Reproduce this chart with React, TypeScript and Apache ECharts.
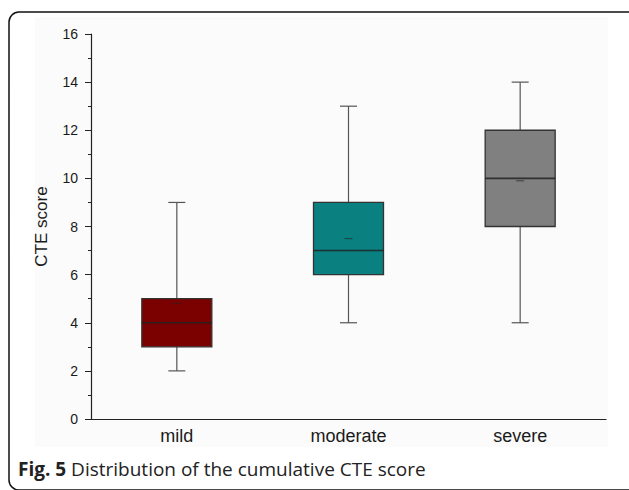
import React, { useEffect, useRef } from "react";
import * as echarts from "echarts";

const categories = ["mild", "moderate", "severe"];
const minValues = [2, 4, 4];
const q1Values = [3, 6, 8];
const medianValues = [4, 7, 10];
const q3Values = [5, 9, 12];
const maxValues = [9, 13, 14];
const meanValues = [4.8, 7.5, 9.9];
const boxColors = ["#7b0000", "#0a8080", "#808080"];
const yTicks = [0, 16, 2];

const FONT = "Liberation Sans, Arial, sans-serif";

export default function App() {
  const ref = useRef<HTMLDivElement>(null);
  useEffect(() => {
    const chart = echarts.init(ref.current!, null, { renderer: "svg" });
    const data = categories.map((_, i) => [
      i,
      minValues[i],
      q1Values[i],
      medianValues[i],
      q3Values[i],
      maxValues[i],
      meanValues[i],
    ]);
    const renderItem = (params: any, api: any) => {
      const xi = api.value(0);
      const pMin = api.coord([xi, api.value(1)]);
      const pQ1 = api.coord([xi, api.value(2)]);
      const pMed = api.coord([xi, api.value(3)]);
      const pQ3 = api.coord([xi, api.value(4)]);
      const pMax = api.coord([xi, api.value(5)]);
      const pMean = api.coord([xi, api.value(6)]);
      const cx = pMed[0];
      const hw = 35;
      const cw = 8.5;
      const wStyle = { stroke: "#555555", lineWidth: 1.2 };
      return {
        type: "group",
        children: [
          { type: "line", shape: { x1: cx, y1: pMax[1], x2: cx, y2: pQ3[1] }, style: wStyle },
          { type: "line", shape: { x1: cx, y1: pQ1[1], x2: cx, y2: pMin[1] }, style: wStyle },
          { type: "line", shape: { x1: cx - cw, y1: pMax[1], x2: cx + cw, y2: pMax[1] }, style: wStyle },
          { type: "line", shape: { x1: cx - cw, y1: pMin[1], x2: cx + cw, y2: pMin[1] }, style: wStyle },
          {
            type: "rect",
            shape: { x: cx - hw, y: pQ3[1], width: hw * 2, height: pQ1[1] - pQ3[1] },
            style: { fill: boxColors[params.dataIndex], stroke: "#333333", lineWidth: 1.3 },
          },
          {
            type: "line",
            shape: { x1: cx - hw, y1: pMed[1], x2: cx + hw, y2: pMed[1] },
            style: { stroke: "#222222", lineWidth: 1.6, opacity: 0.85 },
          },
          {
            type: "line",
            shape: { x1: cx - 4, y1: pMean[1], x2: cx + 4, y2: pMean[1] },
            style: { stroke: "#222222", lineWidth: 1.2, opacity: 0.6 },
          },
        ],
      };
    };
    chart.setOption({
      animation: false,
      backgroundColor: "#ffffff",
      grid: { left: 91, top: 34, width: 515, height: 385, containLabel: false },
      xAxis: {
        type: "category",
        data: categories,
        boundaryGap: true,
        axisLine: { lineStyle: { color: "#222222", width: 1.2 } },
        axisTick: { alignWithLabel: true, length: 6, lineStyle: { color: "#222222" } },
        axisLabel: { color: "#1a1a1a", fontSize: 18, margin: 8, fontFamily: FONT },
        splitLine: { show: false },
      },
      yAxis: {
        type: "value",
        min: yTicks[0],
        max: yTicks[1],
        interval: yTicks[2],
        name: "CTE score",
        nameLocation: "middle",
        nameGap: 41,
        nameTextStyle: { color: "#1a1a1a", fontSize: 17, fontFamily: FONT },
        axisLine: { show: true, lineStyle: { color: "#222222", width: 1.2 } },
        axisTick: { show: true, length: 6, inside: false, lineStyle: { color: "#222222" } },
        minorTick: { show: true, splitNumber: 2, length: 3, lineStyle: { color: "#222222" } },
        axisLabel: { color: "#1a1a1a", fontSize: 14, margin: 13, fontFamily: FONT },
        splitLine: { show: false },
      },
      graphic: [
        {
          type: "rect",
          z: -10,
          silent: true,
          shape: { x: 9, y: 12, width: 640, height: 478, r: 10 },
          style: { fill: "#ffffff", stroke: "#111111", lineWidth: 1.5 },
        },
        {
          type: "rect",
          z: -9,
          silent: true,
          shape: { x: 35, y: 17, width: 573, height: 430 },
          style: { fill: "#fbfbfb" },
        },
        {
          type: "text",
          left: 18,
          top: 459,
          style: {
            text: "{b|Fig. 5} Distribution of the cumulative CTE score",
            rich: {
              b: { fontWeight: "bold", fontSize: 19, fill: "#222222", fontFamily: "Open Sans, sans-serif" },
            },
            fontSize: 19,
            fill: "#222222",
            fontFamily: "Open Sans, sans-serif",
          },
        },
      ],
      series: [
        {
          type: "custom",
          renderItem,
          encode: { x: 0, y: [1, 2, 3, 4, 5, 6] },
          data,
          z: 5,
        },
      ],
    });
    return () => chart.dispose();
  }, []);
  return <div ref={ref} style={{ width: 629, height: 490, position: "absolute", left: 0, top: 0 }} />;
}
